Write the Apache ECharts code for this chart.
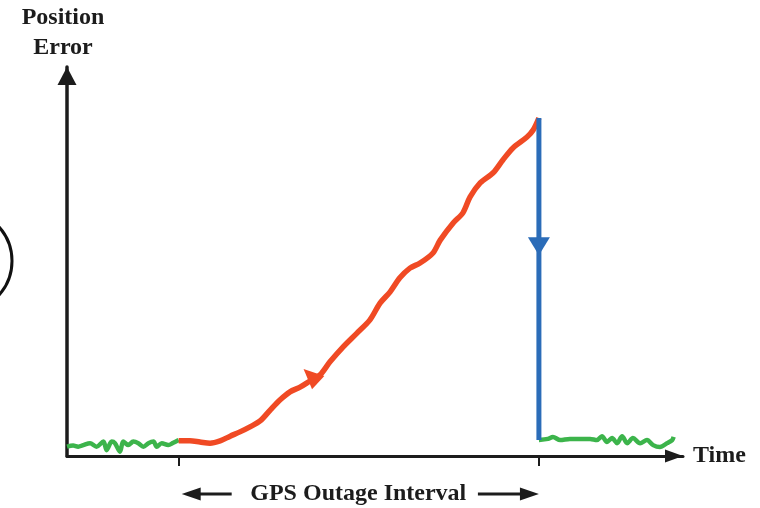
<!DOCTYPE html>
<html>
<head>
<meta charset="utf-8">
<script src="https://cdn.jsdelivr.net/npm/echarts@6/dist/echarts.min.js"></script>
<style>
html,body{margin:0;padding:0;background:#fff;}
#c{width:760px;height:508px;}
</style>
</head>
<body>
<div id="c"></div>
<script>
// Time (arbitrary units, outage from 0 to 100) and position error (arbitrary units)
const greenBefore = [
  [-31,2.4],[-29.3,2.7],[-27.9,2.4],[-26.5,2.8],[-24.6,3.3],[-22.8,2.4],[-20.9,3.7],[-20.0,1.5],
  [-18.6,3.7],[-17.7,3.3],[-16.3,1.1],[-15.4,3.7],[-14.0,2.8],[-12.6,3.7],[-11.2,3.3],[-9.8,2.4],
  [-8.4,3.3],[-7.0,3.7],[-6.1,2.4],[-4.7,3.3],[-2.9,2.8],[-1.5,3.4],[0,4.1]
];
const redOutage = [
  [0,3.9],[3.1,3.9],[5.9,3.6],[8.7,3.3],[11.5,3.9],[14.3,5.1],[17.0,6.2],[19.8,7.5],[22.6,9.0],
  [25.4,11.8],[28.1,14.4],[30.9,16.5],[33.7,17.7],[36.5,19.3],[39.2,20.8],[42.0,24.2],[45.6,28.0],
  [49.5,31.6],[53.1,35.0],[55.9,39.3],[58.7,42.2],[61.4,45.8],[64.2,48.3],[67.0,49.6],[70.6,52.2],
  [72.6,55.5],[76.2,59.9],[78.9,62.5],[80.9,66.6],[83.7,70.2],[87.3,72.8],[90.0,76.1],[92.8,79.2],
  [96.7,82.0],[98.4,83.8],[100,86.9]
];
const blueReset = [[100,86.9],[100,4.1]];
const greenAfter = [
  [100,4.1],[102.5,4.4],[103.9,4.9],[105.9,4.1],[108.6,4.4],[111.4,4.4],[114.2,4.4],[116.1,4.1],
  [117.5,5.1],[118.9,3.6],[120.3,4.6],[121.7,3.3],[123.1,5.1],[124.5,3.3],[126.1,4.6],[128.1,3.3],
  [130.0,4.1],[131.7,2.8],[133.6,2.3],[135.6,3.3],[137.0,4.1],[137.4,4.9]
];
const outageTicks = [0, 100];
const redArrowAt = [36.7, 20.6];
const blueArrowAt = [100, 53.9];
const xName = 'Time';
const yName = 'Position\nError';
const intervalLabel = 'GPS Outage Interval';

const FONT = "'Liberation Serif','Times New Roman',serif";
const GREEN = '#3cb44b', RED = '#f04a24', BLUE = '#2b6cb8', INK = '#1c1c1c';

const chart = echarts.init(document.getElementById('c'), null, {renderer:'canvas'});
const option = {
  animation:false,
  backgroundColor:'#fff',
  grid:{left:67, right:77, top:67, bottom:52, containLabel:false},
  xAxis:{
    type:'value', min:-31, max:140,
    name:xName, nameLocation:'end', nameGap:10,
    nameTextStyle:{fontFamily:FONT, fontWeight:'bold', fontSize:24, color:INK, verticalAlign:'middle'},
    axisLine:{show:true, onZero:false, symbol:['none','triangle'], symbolSize:[13,18], symbolOffset:[0,-9],
      lineStyle:{color:INK, width:3}},
    axisTick:{show:true, customValues:outageTicks, length:10, inside:false, lineStyle:{color:INK, width:2}},
    axisLabel:{show:false},
    splitLine:{show:false}
  },
  yAxis:{
    type:'value', min:0, max:100,
    name:yName, nameLocation:'end', nameGap:4,
    nameTextStyle:{fontFamily:FONT, fontWeight:'bold', fontSize:24, lineHeight:30, color:INK, align:'center', padding:[0,8,0,0]},
    axisLine:{show:true, onZero:false, symbol:['none','triangle'], symbolSize:[19,18], symbolOffset:[0,-9],
      lineStyle:{color:INK, width:3.5}},
    axisTick:{show:false}, axisLabel:{show:false}, splitLine:{show:false}
  },
  series:[
    {type:'line', data:greenBefore, showSymbol:false, smooth:0.3, clip:false,
      lineStyle:{color:GREEN, width:4.5}, z:3},
    {type:'line', data:greenAfter, showSymbol:false, smooth:0.3, clip:false,
      lineStyle:{color:GREEN, width:4.5}, z:3},
    {type:'line', data:redOutage, showSymbol:false, smooth:0.3, clip:false,
      lineStyle:{color:RED, width:5.5}, z:4,
      markPoint:{symbol:'triangle', symbolSize:[18,20], symbolRotate:47, silent:true,
        itemStyle:{color:RED}, label:{show:false}, data:[{coord:redArrowAt}]}},
    {type:'line', data:blueReset, showSymbol:false, clip:false,
      lineStyle:{color:BLUE, width:5}, z:5,
      markPoint:{symbol:'triangle', symbolSize:[22,18], symbolRotate:180, silent:true,
        itemStyle:{color:BLUE}, label:{show:false}, data:[{coord:blueArrowAt}]}}
  ]
};
chart.setOption(option);

const p0 = chart.convertToPixel({gridIndex:0}, [outageTicks[0], 0]);
const p1 = chart.convertToPixel({gridIndex:0}, [outageTicks[1], 0]);
const ay = 494;
const x0 = p0[0] + 3, x1 = p1[0];
chart.setOption({
  graphic:[
    {type:'text', x:(x0+x1)/2 - 2, y:ay, style:{text:intervalLabel, fontFamily:FONT, fontWeight:'bold', fontSize:24,
      fill:INK, align:'center', verticalAlign:'middle'}, z:10},
    {type:'line', shape:{x1:x0+12, y1:ay, x2:x0+50, y2:ay}, style:{stroke:INK, lineWidth:3}},
    {type:'polygon', shape:{points:[[x0,ay],[x0+19,ay-6.5],[x0+19,ay+6.5]]}, style:{fill:INK}},
    {type:'line', shape:{x1:x1-61, y1:ay, x2:x1-10, y2:ay}, style:{stroke:INK, lineWidth:3}},
    {type:'polygon', shape:{points:[[x1,ay],[x1-19,ay-6.5],[x1-19,ay+6.5]]}, style:{fill:INK}},
    {type:'circle', shape:{cx:-39, cy:261, r:51}, style:{fill:'none', stroke:'#111', lineWidth:3}}
  ]
});
</script>
</body>
</html>
